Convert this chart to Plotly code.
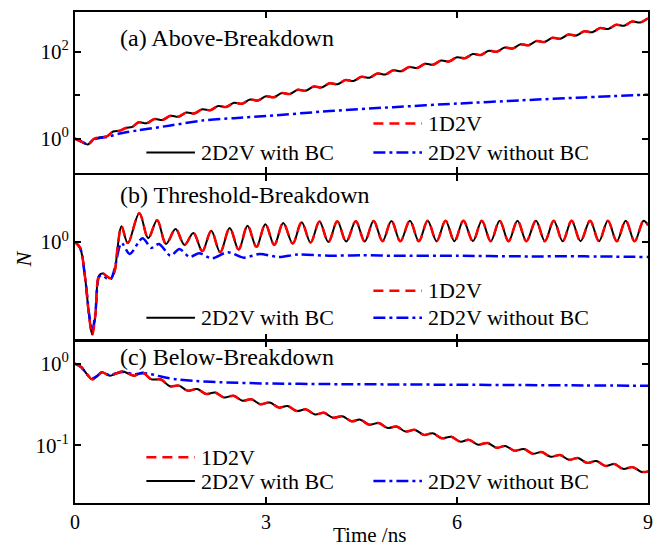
import plotly.graph_objects as go

# ---------------- data ----------------
# (a) Above-Breakdown
t_a = [0, 0.1, 0.2, 0.3, 0.4, 0.5, 0.6, 0.7, 0.8, 0.9,
       1.0, 1.125, 1.25, 1.375, 1.5, 1.625, 1.75, 1.875, 2.0, 2.125, 2.25, 2.375,
       2.5, 2.625, 2.75, 2.875, 3.0, 3.125, 3.25, 3.375, 3.5, 3.625, 3.75, 3.875,
       4.0, 4.125, 4.25, 4.375, 4.5, 4.625, 4.75, 4.875, 5.0, 5.125, 5.25, 5.375,
       5.5, 5.625, 5.75, 5.875, 6.0, 6.125, 6.25, 6.375, 6.5, 6.625, 6.75, 6.875,
       7.0, 7.125, 7.25, 7.375, 7.5, 7.625, 7.75, 7.875, 8.0, 8.125, 8.25, 8.375,
       8.5, 8.625, 8.75, 8.875, 9.0]
n_a_bc = [1.0, 0.85, 0.73, 0.98, 1.07, 1.12, 1.45, 1.52, 1.75, 1.85,
          2.371, 2.251, 2.818, 2.676, 3.350, 3.181, 3.981, 3.780, 4.732, 4.493,
          5.623, 5.339, 6.683, 6.346, 7.943, 7.542, 9.441, 8.964, 11.22, 10.65,
          13.34, 12.66, 15.85, 15.05, 18.84, 17.89, 22.39, 21.26, 26.61, 25.27,
          31.62, 30.02, 37.58, 35.68, 44.67, 42.41, 53.09, 50.41, 63.10, 59.91,
          74.99, 71.21, 89.13, 84.63, 105.9, 100.6, 125.9, 119.6, 149.6, 142.1,
          177.8, 168.9, 211.3, 200.7, 251.2, 238.5, 298.5, 283.5, 354.8, 336.9,
          421.7, 400.4, 501.2, 475.9, 595.7]
n_a_1d = n_a_bc  # the 1D2V result lies on the 2D2V-with-BC curve
t_a_nobc = [0, 0.1, 0.2, 0.3, 0.4, 0.5, 0.7, 1.0, 1.5, 2.0, 2.5, 3.0, 4.0, 5.0,
            6.0, 7.0, 8.0, 9.0]
n_a_nobc = [1.0, 0.85, 0.74, 0.96, 1.04, 1.08, 1.3, 1.55, 2.0, 2.6, 2.95, 3.3,
            4.3, 5.3, 6.4, 7.6, 8.9, 10.3]

# (b) Threshold-Breakdown
t_b = [0, 0.08, 0.16, 0.22, 0.27, 0.32, 0.38, 0.44, 0.5, 0.56, 0.62, 0.67, 0.73, 0.83,
       1.01, 1.15, 1.29, 1.43, 1.58, 1.72, 1.86, 2.0, 2.14, 2.28, 2.43, 2.57,
       2.71, 2.85, 2.99, 3.13, 3.27, 3.42, 3.56, 3.70, 3.84, 3.98, 4.12, 4.26,
       4.41, 4.55, 4.69, 4.83, 4.97, 5.11, 5.26, 5.40, 5.54, 5.68, 5.82, 5.96,
       6.10, 6.25, 6.39, 6.53, 6.67, 6.81, 6.95, 7.09, 7.24, 7.38, 7.52, 7.66,
       7.80, 7.94, 8.09, 8.23, 8.37, 8.51, 8.65, 8.79, 8.93, 9.0]
n_b_bc = [1.0, 0.88, 0.45, 0.2, 0.13, 0.2, 0.48, 0.5, 0.47, 0.45, 0.52, 0.9, 1.42, 0.98,
          1.89, 1.09, 1.62, 0.96, 1.33, 0.94, 1.22, 0.82, 1.28, 0.80, 1.36, 0.85,
          1.43, 0.90, 1.48, 0.94, 1.52, 0.97, 1.55, 0.99, 1.57, 1.00, 1.58, 1.01,
          1.58, 1.01, 1.59, 1.02, 1.59, 1.02, 1.60, 1.02, 1.60, 1.02, 1.60, 1.02,
          1.60, 1.02, 1.60, 1.02, 1.60, 1.02, 1.60, 1.02, 1.60, 1.02, 1.60, 1.02,
          1.60, 1.02, 1.60, 1.02, 1.60, 1.02, 1.60, 1.02, 1.60, 1.45]
n_b_1d = n_b_bc
t_b_nobc = [0, 0.08, 0.16, 0.22, 0.27, 0.32, 0.38, 0.44, 0.5, 0.56, 0.62, 0.73, 0.86,
            1.06, 1.2, 1.32, 1.5, 1.64, 1.8, 1.95, 2.15, 2.4, 2.65, 2.9, 3.2, 3.5,
            4.0, 4.5, 5.0, 6.0, 7.0, 8.0, 9.0]
n_b_nobc = [1.0, 0.88, 0.45, 0.21, 0.14, 0.21, 0.47, 0.48, 0.45, 0.44, 0.55, 0.98, 0.77,
            1.09, 0.88, 0.96, 0.74, 0.86, 0.72, 0.78, 0.70, 0.80, 0.71, 0.77, 0.72, 0.76,
            0.74, 0.75, 0.74, 0.74, 0.73, 0.73, 0.72]

# (c) Below-Breakdown
t_c = [0, 0.1, 0.2, 0.27, 0.35, 0.42, 0.55, 0.65, 0.75, 0.93,
       1.06, 1.20, 1.35, 1.49, 1.63, 1.77, 1.92, 2.06, 2.20, 2.34, 2.49, 2.63,
       2.77, 2.91, 3.06, 3.20, 3.34, 3.48, 3.63, 3.77, 3.91, 4.05, 4.20, 4.34,
       4.48, 4.62, 4.77, 4.91, 5.05, 5.19, 5.34, 5.48, 5.62, 5.76, 5.91, 6.05,
       6.19, 6.33, 6.48, 6.62, 6.76, 6.90, 7.05, 7.19, 7.33, 7.47, 7.62, 7.76,
       7.90, 8.04, 8.19, 8.33, 8.47, 8.61, 8.76, 8.90, 9.0]
n_c_bc = [1.0, 0.9, 0.72, 0.64, 0.7, 0.78, 0.71, 0.76, 0.8, 0.71,
          0.776, 0.641, 0.638, 0.527, 0.537, 0.466, 0.487, 0.423, 0.442, 0.385,
          0.403, 0.350, 0.366, 0.318, 0.333, 0.289, 0.302, 0.2627, 0.2745, 0.2384,
          0.2492, 0.2166, 0.2264, 0.1967, 0.2056, 0.1787, 0.1868, 0.1623, 0.1697,
          0.1474, 0.1541, 0.1339, 0.1399, 0.1217, 0.1271, 0.1107, 0.1163, 0.1016,
          0.1067, 0.0933, 0.0980, 0.0857, 0.0900, 0.0787, 0.0826, 0.0722, 0.0759,
          0.0663, 0.0697, 0.0609, 0.0640, 0.0559, 0.0588, 0.0514, 0.0539, 0.0471,
          0.0478]
n_c_1d = n_c_bc
t_c_nobc = [0, 0.1, 0.2, 0.27, 0.35, 0.42, 0.55, 0.65, 0.75, 0.93, 1.06, 1.2, 1.4,
            1.6, 1.9, 2.3, 3.0, 4.0, 5.0, 6.0, 7.0, 8.0, 9.0]
n_c_nobc = [1.0, 0.9, 0.72, 0.66, 0.71, 0.78, 0.72, 0.76, 0.79, 0.74, 0.76, 0.74, 0.68,
            0.64, 0.61, 0.59, 0.57, 0.56, 0.555, 0.55, 0.545, 0.54, 0.535]

panel_titles = ["(a) Above-Breakdown", "(b) Threshold-Breakdown", "(c) Below-Breakdown"]
series_names = ["1D2V", "2D2V with BC", "2D2V without BC"]
x_ticks = [0, 3, 6, 9]
y_tickvals = [[1, 100], [1], [0.1, 1]]
y_ticktext = [["10<sup>0</sup>", "10<sup>2</sup>"], ["10<sup>0</sup>"],
              ["10<sup>-1</sup>", "10<sup>0</sup>"]]

# ---------------- styling ----------------
W, H = 663, 548
ML, MR, MT, MB = 75, 10, 10, 45
PW, PH = W - ML - MR, H - MT - MB
FONT = "'Liberation Serif', 'Times New Roman', Times, serif"
RED, BLACK, BLUE = "#ff0000", "#000000", "#0000ff"
DASH_RED = "10px,6px"
DASH_BLUE = "12px,4px,3px,4px"


def px(x, y):
    """pixel position -> paper coordinates"""
    return (x - ML) / PW, (H - MB - y) / PH


# panel vertical extents in pixels (top, bottom) and log ranges
panels = [(10, 172), (174, 339), (340, 503)]
y_ranges = [[-0.804, 2.92], [-0.933, 0.638], [-1.707, 0.28]]

fig = go.Figure()

data = [
    (t_a, n_a_bc, n_a_1d, t_a_nobc, n_a_nobc),
    (t_b, n_b_bc, n_b_1d, t_b_nobc, n_b_nobc),
    (t_c, n_c_bc, n_c_1d, t_c_nobc, n_c_nobc),
]

for i, (t, n_bc, n_1d, t_nb, n_nb) in enumerate(data):
    sfx = "" if i == 0 else str(i + 1)
    xa, ya = "x" + sfx, "y" + sfx
    fig.add_trace(go.Scatter(x=t, y=n_bc, mode="lines", name=series_names[1],
                             line=dict(color=BLACK, width=2, shape="spline", smoothing=1),
                             xaxis=xa, yaxis=ya, showlegend=False))
    fig.add_trace(go.Scatter(x=t_nb, y=n_nb, mode="lines", name=series_names[2],
                             line=dict(color=BLUE, width=2.5, dash=DASH_BLUE,
                                       shape="spline", smoothing=0.8),
                             xaxis=xa, yaxis=ya, showlegend=False))
    fig.add_trace(go.Scatter(x=t, y=n_1d, mode="lines", name=series_names[0],
                             line=dict(color=RED, width=2.5, dash=DASH_RED,
                                       shape="spline", smoothing=1),
                             xaxis=xa, yaxis=ya, showlegend=False))

axis_common = dict(showline=True, linewidth=2, linecolor="black", mirror="ticks",
                   ticks="inside", ticklen=6, tickwidth=2, tickcolor="black",
                   showgrid=False, zeroline=False,
                   tickfont=dict(family=FONT, size=21, color="black"))

layout = dict(width=W, height=H, margin=dict(l=ML, r=MR, t=MT, b=MB),
              paper_bgcolor="white", plot_bgcolor="white", showlegend=False)

for i, (top, bot) in enumerate(panels):
    sfx = "" if i == 0 else str(i + 1)
    d0 = (H - MB - bot) / PH
    d1 = (H - MB - top) / PH
    layout["xaxis" + sfx] = dict(axis_common, range=[0, 9], tickvals=x_ticks,
                                 anchor="y" + sfx, showticklabels=(i == 2),
                                 tickfont=dict(family=FONT, size=20, color="black"))
    layout["yaxis" + sfx] = dict(axis_common, type="log", range=y_ranges[i],
                                 domain=[d0, d1], anchor="x" + sfx,
                                 tickvals=y_tickvals[i], ticktext=y_ticktext[i])
    if i > 0:
        layout["xaxis" + sfx]["matches"] = "x"

# short decade tick at 10^1 in the top panel
layout["yaxis"]["minor"] = dict(tickvals=[10], ticks="inside", ticklen=5,
                                tickwidth=2, tickcolor="black", showgrid=False)

fig.update_layout(**layout)

# panel titles
label_y = [36, 194, 356]
for title, ly in zip(panel_titles, label_y):
    x, y = px(118, ly)
    fig.add_annotation(x=x, y=y, xref="paper", yref="paper", text=title,
                       showarrow=False, xanchor="left", yanchor="middle",
                       font=dict(family=FONT, size=24, color="black"))

# legend keys drawn inside each panel
legend_rows = [
    [(RED, DASH_RED, 376, 122, 0), (BLACK, "solid", 147, 151, 1), (BLUE, DASH_BLUE, 376, 151, 2)],
    [(RED, DASH_RED, 376, 290, 0), (BLACK, "solid", 147, 317, 1), (BLUE, DASH_BLUE, 376, 317, 2)],
    [(RED, DASH_RED, 147, 457, 0), (BLACK, "solid", 147, 481, 1), (BLUE, DASH_BLUE, 376, 481, 2)],
]
for rows in legend_rows:
    for color, dash, x0, y0, k in rows:
        ax0, ay = px(x0, y0)
        ax1, _ = px(x0 + 49, y0)
        fig.add_shape(type="line", xref="paper", yref="paper", x0=ax0, x1=ax1,
                      y0=ay, y1=ay,
                      line=dict(color=color, width=2.5 if k != 1 else 2, dash=dash))
        tx, _ = px(x0 + 53, y0)
        fig.add_annotation(x=tx, y=ay, xref="paper", yref="paper", text=series_names[k],
                           showarrow=False, xanchor="left", yanchor="middle",
                           font=dict(family=FONT, size=22, color="black"))

# axis titles
x, y = px(372, 535)
fig.add_annotation(x=x, y=y, xref="paper", yref="paper", text="Time /ns",
                   showarrow=False, xanchor="center", yanchor="middle",
                   font=dict(family=FONT, size=21, color="black"))
x, y = px(24, 258)
fig.add_annotation(x=x, y=y, xref="paper", yref="paper", text="<i>N</i>",
                   showarrow=False, xanchor="center", yanchor="middle", textangle=-90,
                   font=dict(family=FONT, size=22, color="black"))

fig.write_html("out.html")
